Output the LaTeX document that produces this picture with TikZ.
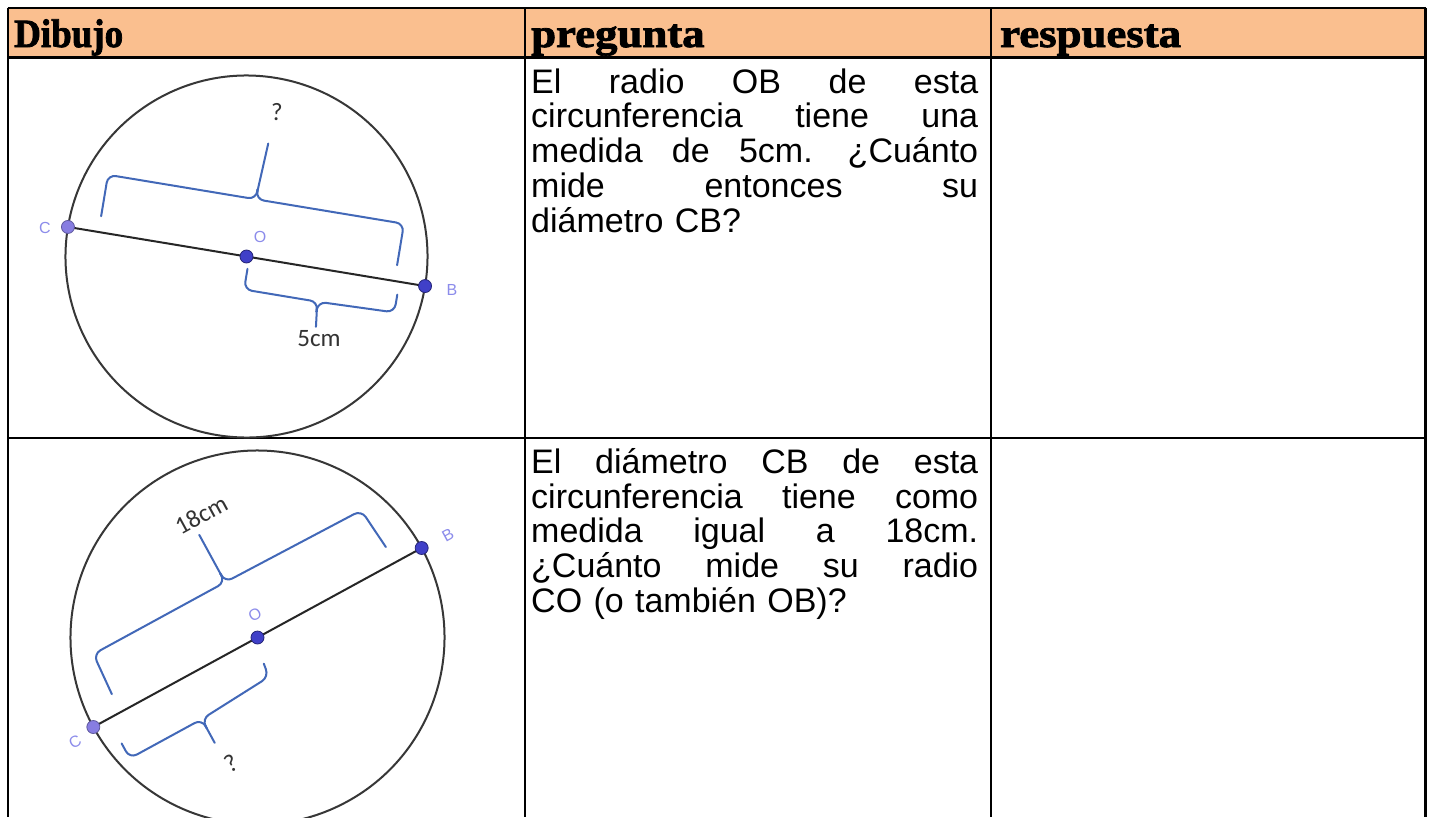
\documentclass[tikz,border=0pt]{standalone}
\usepackage{fontspec}
\setmainfont{Liberation Sans}
\newfontfamily\qfont{Liberation Sans}
\newfontfamily\hfont[FakeBold=2]{Liberation Serif}
\newfontfamily\lblfont{Carlito}
\definecolor{hdr}{RGB}{250,191,143}
\definecolor{brc}{RGB}{66,104,184}
\definecolor{ptdark}{RGB}{64,64,200}
\definecolor{ptlight}{RGB}{135,125,225}
\definecolor{lbl}{RGB}{140,140,235}
\definecolor{circ}{RGB}{55,55,55}
\newcommand\justline[1]{\leavevmode\hbox to 447pt{#1}}
\tikzset{
  tableline/.style={line width=2pt, draw=black},
  hdrtext/.style={anchor=base west, inner sep=0pt, font=\hfont\bfseries\fontsize{40}{40}\selectfont},
  qtext/.style={anchor=north west, inner sep=0pt, text width=447pt, align=left, font=\qfont\fontsize{34}{34.7}\selectfont},
  circline/.style={draw=circ, line width=2pt},
  diam/.style={draw=black!85, line width=2pt},
  brace/.style={draw=brc, line width=2pt, rounded corners=8pt, line cap=round},
  ptd/.style={circle, fill=ptdark, draw=ptdark!60!black, line width=0.8pt, minimum size=13pt, inner sep=0pt},
  ptl/.style={circle, fill=ptlight, draw=ptlight!70!black, line width=0.8pt, minimum size=13pt, inner sep=0pt},
  ptlabel/.style={text=lbl, font=\qfont\fontsize{16}{16}\selectfont, inner sep=0pt},
  meas/.style={text=black!80, font=\lblfont\fontsize{25}{25}\selectfont, inner sep=0pt},
}
\begin{document}
\begin{tikzpicture}[x=1pt,y=-1pt]
\useasboundingbox (0,0) rectangle (1429,817);
\fill[white] (0,0) rectangle (1429,817);
% header
\fill[hdr] (7.5,7.5) rectangle (1425.5,57.5);
\draw[tableline] (7.5,7.5) -- (1425.5,7.5);
\draw[tableline] (7.5,7.5) -- (7.5,817);
\draw[tableline, line width=3pt] (1425.5,7.5) -- (1425.5,817);
\draw[tableline, line width=3pt] (7.5,57.5) -- (1425.5,57.5);
\draw[tableline] (524.5,7.5) -- (524.5,817);
\draw[tableline] (991,7.5) -- (991,817);
\draw[tableline] (7.5,438) -- (1425.5,438);
\node[hdrtext] (h1) at (14,47) {\scalebox{0.925}[1]{Dibujo}};
\node[hdrtext] (h2) at (531,47) {\scalebox{1.12}[1]{pregunta}};
\node[hdrtext] (h3) at (1000,47) {\scalebox{1.12}[1]{respuesta}};
% questions
\node[qtext] (q1) at (531,59) {\justline{\rule{0pt}{34pt}El \hfill radio \hfill OB \hfill de \hfill esta}\\
\justline{circunferencia \hfill tiene \hfill una}\\
\justline{medida \hfill de \hfill 5cm. \hfill ¿Cuánto}\\
\justline{mide \hfill entonces \hfill su}\\
diámetro CB?};
\node[qtext] (q2) at (531,439.3) {\justline{\rule{0pt}{34pt}El \hfill diámetro \hfill CB \hfill de \hfill esta}\\
\justline{circunferencia \hfill tiene \hfill como}\\
\justline{medida \hfill igual \hfill a \hfill 18cm.}\\
\justline{¿Cuánto \hfill mide \hfill su \hfill radio}\\
CO (o también OB)?};
% drawing 1
\begin{scope}[shift={(246.5,256.5)}, rotate=-9.4, y=1pt]
  \draw[circline] (0,0) circle[radius=181];
  \coordinate (C1) at (-181,0);
  \coordinate (O1) at (0,0);
  \coordinate (B1) at (181,0);
  \draw[diam] (C1) -- (B1);
  \draw[brace] (-150,16) -- (-150,58) -- (0,58) -- (0,68);
  \draw[brace] (0,68) -- (0,58) -- (150,58) -- (150,16);
  \draw[brace] (0,64) -- (3,115);
  \draw[brace] (3,-12) -- (3,-33) -- (78,-33) -- (78,-43);
  \draw[brace] (78,-43) -- (78,-33) -- (155,-31) -- (155,-13);
  \draw[brace] (78,-40) -- (80,-58);
  \node[ptl] (pC1) at (C1) {};
  \node[ptd] (pO1) at (O1) {};
  \node[ptd] (pB1) at (B1) {};
\end{scope}
\node[ptlabel] (lC1) at (45,228) {C};
\node[ptlabel] (lO1) at (260,237) {O};
\node[ptlabel] (lB1) at (452,290) {B};
\node[meas] (m1a) at (277,112) {?};
\node[meas] (m1b) at (319,339) {5cm};
% drawing 2
\begin{scope}[shift={(257.5,637.5)}, rotate=28.6, y=1pt]
  \draw[circline] (0,0) circle[radius=187];
  \coordinate (C2) at (-187,0);
  \coordinate (O2) at (0,0);
  \coordinate (B2) at (187,0);
  \draw[diam] (C2) -- (B2);
  \draw[brace] (-155,20) -- (-152,64) -- (-2,64) -- (-2,74);
  \draw[brace] (-2,74) -- (-2,64) -- (152,62) -- (156,18);
  \draw[brace] (-2,70) -- (-2,118);
  \draw[brace] (-170,-28) -- (-170,-45) -- (-88,-45) -- (-88,-55);
  \draw[brace] (-88,-55) -- (-88,-45) -- (-9,-40) -- (-7,-26);
  \draw[brace] (-88,-52) -- (-88,-72);
  \node[ptl] (pC2) at (C2) {};
  \node[ptd] (pO2) at (O2) {};
  \node[ptd] (pB2) at (B2) {};
\end{scope}
\node[ptlabel, rotate=28.6] (lC2) at (75,742) {C};
\node[ptlabel, rotate=28.6] (lO2) at (255,615) {O};
\node[ptlabel, rotate=28.6] (lB2) at (448,535) {B};
\node[meas, rotate=28.6] (m2a) at (201,515) {18cm};
\node[meas, rotate=28.6] (m2b) at (231,763) {?};
\end{tikzpicture}
\end{document}
